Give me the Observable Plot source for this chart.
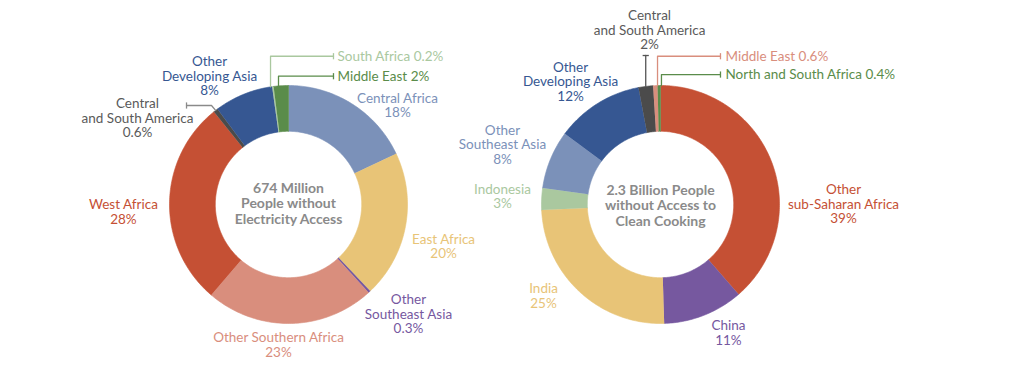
<!DOCTYPE html>
<html>
<head>
<meta charset="utf-8">
<script src="https://cdn.jsdelivr.net/npm/d3@7"></script>
<script src="https://cdn.jsdelivr.net/npm/@observablehq/plot@0.6"></script>
<style>
  html, body { margin: 0; padding: 0; background: #fff; overflow: hidden; }
  #chart svg { display: block; }
</style>
</head>
<body>
<div id="chart"></div>
<script>
// ---------------- DATA ----------------
const elecTitle = "674 Million\nPeople without\nElectricity Access";
const elecRegions = ["Central Africa", "East Africa", "Other Southeast Asia", "Other Southern Africa", "West Africa", "Central and South America", "Other Developing Asia", "South Africa", "Middle East"];
const elecShares = [18, 20, 0.3, 23, 28, 0.6, 8, 0.2, 2];
const elecLabels = ["Central Africa\n18%", "East Africa\n20%", "Other\nSoutheast Asia\n0.3%", "Other Southern Africa\n23%", "West Africa\n28%", "Central\nand South America\n0.6%", "Other\nDeveloping Asia\n8%", "South Africa 0.2%", "Middle East 2%"];
const elecColors = ["#7b91b9", "#e8c477", "#76589f", "#d98e7d", "#c55034", "#4b4b4b", "#365792", "#aac89f", "#5a8c4a"];

const cookTitle = "2.3 Billion People\nwithout Access to\nClean Cooking";
const cookRegions = ["Other sub-Saharan Africa", "China", "India", "Indonesia", "Other Southeast Asia", "Other Developing Asia", "Central and South America", "Middle East", "North and South Africa"];
const cookShares = [39, 11, 25, 3, 8, 12, 2, 0.6, 0.4];
const cookLabels = ["Other\nsub-Saharan Africa\n39%", "China\n11%", "India\n25%", "Indonesia\n3%", "Other\nSoutheast Asia\n8%", "Other\nDeveloping Asia\n12%", "Central\nand South America\n2%", "Middle East 0.6%", "North and South Africa 0.4%"];
const cookColors = ["#c55034", "#76589f", "#e8c477", "#aac89f", "#7b91b9", "#365792", "#4b4b4b", "#d98e7d", "#5a8c4a"];

// ---------------- LAYOUT (units of outer radius, relative to each donut centre) ----------------
const W = 1024, H = 367, PX = 119;            // outer radius in px
const leftCenterPx = [288, 204], rightCenterPx = [660, 204];
const innerRatio = 0.615;
const elecLayout = [
  {dx: 0.916, dy: 0.834}, {dx: 1.303, dy: -0.351}, {dx: 1.008, dy: -0.920},
  {dx: -0.084, dy: -1.181}, {dx: -1.387, dy: -0.063},
  {dx: -1.269, dy: 0.727, leader: {tx: -0.857, ty: 0.832, ex: -0.647, tick: "v", color: "#8a8a8a"}},
  {dx: -0.664, dy: 1.080},
  {dx: 0.412, dy: 1.246, anchor: "start", leader: {tx: 0.378, ty: 1.246, ex: -0.151, drop: true, tick: "v"}},
  {dx: 0.412, dy: 1.078, anchor: "start", leader: {tx: 0.378, ty: 1.078, ex: -0.084, drop: true, tick: "v"}}
];
const cookLayout = [
  {dx: 1.538, dy: 0.004}, {dx: 0.571, dy: -1.076}, {dx: -0.983, dy: -0.769},
  {dx: -1.328, dy: 0.067}, {dx: -1.328, dy: 0.504}, {dx: -0.756, dy: 1.034},
  {dx: -0.092, dy: 1.466, leader: {ty: 1.252, tick: "h", color: "#555"}},
  {dx: 0.546, dy: 1.246, anchor: "start", leader: {tx: 0.504, ty: 1.246, ex: -0.025, drop: true, tick: "v"}},
  {dx: 0.546, dy: 1.092, anchor: "start", leader: {tx: 0.504, ty: 1.092, ex: 0.008, drop: true, tick: "v"}}
];

// ---------------- BUILD ----------------
const cxL = 0, cxR = (rightCenterPx[0] - leftCenterPx[0]) / PX;
const xDomain = [-leftCenterPx[0] / PX, (W - leftCenterPx[0]) / PX];
const yDomain = [-(H - leftCenterPx[1]) / PX, leftCenterPx[1] / PX];

function buildDonut(id, names, shares, colors, labels, layout, cx) {
  const total = d3.sum(shares);
  let acc = 0;
  const slices = names.map((n, i) => {
    const a0 = acc / total * 2 * Math.PI; acc += shares[i];
    const a1 = acc / total * 2 * Math.PI;
    return {key: id + i, name: n, a0, a1, mid: (a0 + a1) / 2, color: colors[i]};
  });
  const ring = [];
  for (const s of slices) {
    const n = Math.max(2, Math.ceil((s.a1 - s.a0) / (Math.PI / 180)));
    for (let k = 0; k <= n; k++) {
      const a = s.a0 + (s.a1 - s.a0) * k / n;
      ring.push({key: s.key, color: s.color, x: cx + Math.sin(a), y: Math.cos(a)});
    }
    for (let k = n; k >= 0; k--) {
      const a = s.a0 + (s.a1 - s.a0) * k / n;
      ring.push({key: s.key, color: s.color, x: cx + innerRatio * Math.sin(a), y: innerRatio * Math.cos(a)});
    }
  }
  const texts = slices.map((s, i) => ({
    text: labels[i], x: cx + layout[i].dx, y: layout[i].dy,
    anchor: layout[i].anchor || "middle",
    color: s.color === "#4b4b4b" ? "#5a5a5a" : s.color
  }));
  const leaders = [], ticks = [];
  slices.forEach((s, i) => {
    const Ld = layout[i].leader; if (!Ld) return;
    const col = Ld.color || s.color;
    let px = cx + Math.sin(s.mid), py = Math.cos(s.mid);
    const sx = Ld.tx !== undefined ? cx + Ld.tx : px;
    const ex = Ld.ex !== undefined ? cx + Ld.ex : px;
    if (Ld.drop) { px = ex; py = Math.sqrt(1 - Ld.ex * Ld.ex); }
    leaders.push({key: s.key, color: col, x: sx, y: Ld.ty});
    leaders.push({key: s.key, color: col, x: ex, y: Ld.ty});
    leaders.push({key: s.key, color: col, x: px, y: py});
    const t = 0.026;
    if (Ld.tick === "v") ticks.push({x1: sx, x2: sx, y1: Ld.ty - t, y2: Ld.ty + t, color: col});
    else ticks.push({x1: sx - t, x2: sx + t, y1: Ld.ty, y2: Ld.ty, color: col});
  });
  return {ring, texts, leaders, ticks};
}

const L = buildDonut("e", elecRegions, elecShares, elecColors, elecLabels, elecLayout, cxL);
const R = buildDonut("c", cookRegions, cookShares, cookColors, cookLabels, cookLayout, cxR);
const ring = L.ring.concat(R.ring);
const texts = L.texts.concat(R.texts);
const leaders = L.leaders.concat(R.leaders);
const ticks = L.ticks.concat(R.ticks);
const titles = [{text: elecTitle, x: cxL, y: 0.008}, {text: cookTitle, x: cxR, y: -0.008}];

const font = "Lato, 'Open Sans', sans-serif";
const chart = Plot.plot({
  width: W, height: H,
  margin: 0,
  style: {fontFamily: font, background: "#fff"},
  x: {domain: xDomain, range: [0, W], axis: null},
  y: {domain: yDomain, range: [H, 0], axis: null},
  color: {type: "identity"},
  marks: [
    Plot.line(ring, {x: "x", y: "y", z: "key", fill: "color", stroke: "color", strokeWidth: 0.6, curve: "linear"}),
    Plot.line(leaders, {x: "x", y: "y", z: "key", stroke: "color", strokeWidth: 1.3, curve: "linear"}),
    Plot.link(ticks, {x1: "x1", x2: "x2", y1: "y1", y2: "y2", stroke: "color", strokeWidth: 1.3}),
    Plot.text(texts.filter(d => d.anchor === "middle"), {x: "x", y: "y", text: "text", fill: "color", fontSize: 13.5, lineHeight: 1.08, textAnchor: "middle", fontFamily: font}),
    Plot.text(texts.filter(d => d.anchor === "start"), {x: "x", y: "y", text: "text", fill: "color", fontSize: 13.5, lineHeight: 1.08, textAnchor: "start", fontFamily: font}),
    Plot.text(titles, {x: "x", y: "y", text: "text", fill: "#8a8a8a", fontSize: 14, fontWeight: "bold", lineHeight: 1.1, textAnchor: "middle", fontFamily: font})
  ]
});
document.getElementById("chart").appendChild(chart);
</script>
</body>
</html>
